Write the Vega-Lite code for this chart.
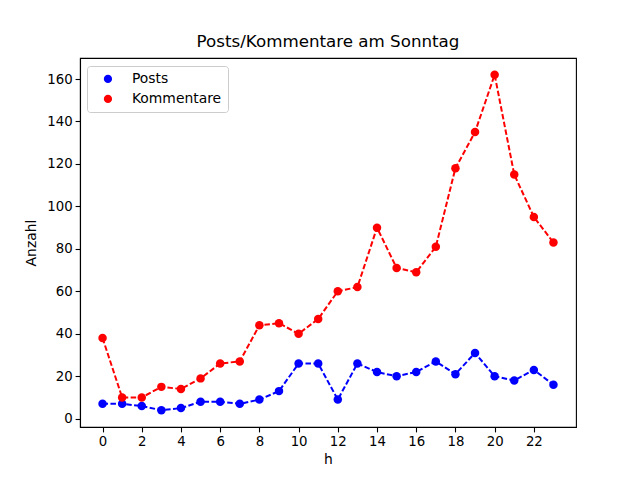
{
  "$schema": "https://vega.github.io/schema/vega-lite/v6.json",
  "width": 496,
  "height": 369,
  "autosize": {"type": "none"},
  "padding": {"left": 80, "top": 58, "right": 64, "bottom": 53},
  "background": "white",
  "title": {"text": "Posts/Kommentare am Sonntag", "font": "DejaVu Sans", "fontSize": 16.7, "fontWeight": "normal", "color": "black", "offset": 7},
  "config": {
    "view": {"stroke": "black", "strokeWidth": 1.1},
    "axis": {
      "labelFont": "DejaVu Sans", "labelFontSize": 13.3, "labelColor": "black",
      "titleFont": "DejaVu Sans", "titleFontSize": 13.9, "titleFontWeight": "normal", "titleColor": "black",
      "domainColor": "black", "domainWidth": 1.1, "tickColor": "black", "tickWidth": 1.1, "tickSize": 4.9,
      "labelPadding": 3, "grid": false
    }
  },
  "data": {"values": [
    {"h":0,"series":"Posts","value":7},{"h":1,"series":"Posts","value":7},{"h":2,"series":"Posts","value":6},{"h":3,"series":"Posts","value":4},
    {"h":4,"series":"Posts","value":5},{"h":5,"series":"Posts","value":8},{"h":6,"series":"Posts","value":8},{"h":7,"series":"Posts","value":7},
    {"h":8,"series":"Posts","value":9},{"h":9,"series":"Posts","value":13},{"h":10,"series":"Posts","value":26},{"h":11,"series":"Posts","value":26},
    {"h":12,"series":"Posts","value":9},{"h":13,"series":"Posts","value":26},{"h":14,"series":"Posts","value":22},{"h":15,"series":"Posts","value":20},
    {"h":16,"series":"Posts","value":22},{"h":17,"series":"Posts","value":27},{"h":18,"series":"Posts","value":21},{"h":19,"series":"Posts","value":31},
    {"h":20,"series":"Posts","value":20},{"h":21,"series":"Posts","value":18},{"h":22,"series":"Posts","value":23},{"h":23,"series":"Posts","value":16},
    {"h":0,"series":"Kommentare","value":38},{"h":1,"series":"Kommentare","value":10},{"h":2,"series":"Kommentare","value":10},{"h":3,"series":"Kommentare","value":15},
    {"h":4,"series":"Kommentare","value":14},{"h":5,"series":"Kommentare","value":19},{"h":6,"series":"Kommentare","value":26},{"h":7,"series":"Kommentare","value":27},
    {"h":8,"series":"Kommentare","value":44},{"h":9,"series":"Kommentare","value":45},{"h":10,"series":"Kommentare","value":40},{"h":11,"series":"Kommentare","value":47},
    {"h":12,"series":"Kommentare","value":60},{"h":13,"series":"Kommentare","value":62},{"h":14,"series":"Kommentare","value":90},{"h":15,"series":"Kommentare","value":71},
    {"h":16,"series":"Kommentare","value":69},{"h":17,"series":"Kommentare","value":81},{"h":18,"series":"Kommentare","value":118},{"h":19,"series":"Kommentare","value":135},
    {"h":20,"series":"Kommentare","value":162},{"h":21,"series":"Kommentare","value":115},{"h":22,"series":"Kommentare","value":95},{"h":23,"series":"Kommentare","value":83}
  ]},
  "encoding": {
    "x": {"field": "h", "type": "quantitative", "title": "h",
      "scale": {"domain": [-1.15, 24.15], "nice": false, "zero": false},
      "axis": {"values": [0,2,4,6,8,10,12,14,16,18,20,22], "titlePadding": 4}},
    "y": {"field": "value", "type": "quantitative", "title": "Anzahl",
      "scale": {"domain": [-3.9, 169.9], "nice": false, "zero": false},
      "axis": {"values": [0,20,40,60,80,100,120,140,160], "titlePadding": 8}},
    "color": {"field": "series", "type": "nominal",
      "scale": {"domain": ["Posts", "Kommentare"], "range": ["#0000ff", "#ff0000"]},
      "legend": {"title": null, "orient": "none", "legendX": 7, "legendY": 8,
        "labelFont": "DejaVu Sans", "labelFontSize": 13.9, "labelColor": "black",
        "symbolType": "circle", "symbolSize": 68, "symbolOpacity": 1, "symbolStrokeWidth": 0,
        "strokeColor": "#cccccc", "fillColor": "white", "cornerRadius": 3, "padding": 6,
        "rowPadding": 5, "labelOffset": 17, "symbolOffset": 8, "labelLimit": 200}}
  },
  "layer": [
    {
      "mark": {"type": "line", "strokeWidth": 2, "strokeDash": [5.5, 2.4]},
      "encoding": {"order": {"field": "h"}}
    },
    {
      "mark": {"type": "point", "filled": true, "shape": "circle", "size": 72, "opacity": 1},
      "encoding": {}
    }
  ]
}
